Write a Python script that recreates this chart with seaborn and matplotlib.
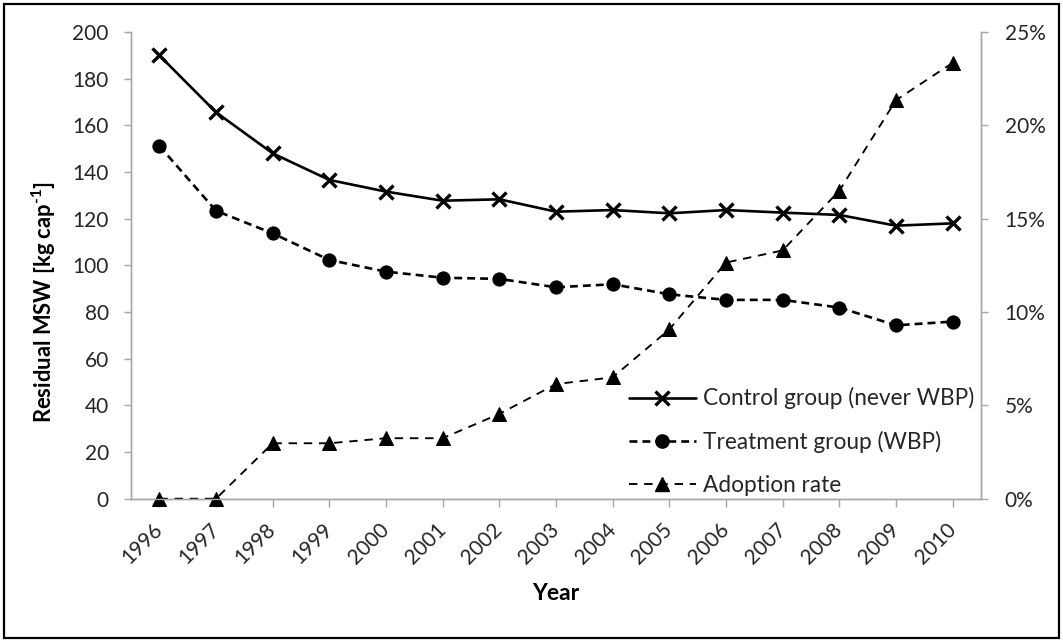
import matplotlib
matplotlib.use('Agg')
import matplotlib.pyplot as plt
import seaborn as sns
import numpy as np
from matplotlib.ticker import FuncFormatter, FixedLocator
from matplotlib.patches import Rectangle
from matplotlib.lines import Line2D

years = ['1996', '1997', '1998', '1999', '2000', '2001', '2002', '2003',
         '2004', '2005', '2006', '2007', '2008', '2009', '2010']
control = [190, 165.6, 148, 136.6, 131.6, 127.7, 128.3, 123.0,
           123.7, 122.3, 123.7, 122.6, 121.6, 117.0, 118.0]
treatment = [151.2, 123.4, 113.7, 102.3, 97.3, 94.7, 94.2, 90.6,
             91.9, 87.6, 85.2, 85.2, 81.9, 74.3, 75.9]
adoption = [0.0, 0.0, 2.97, 2.97, 3.24, 3.24, 4.54, 6.14,
            6.5, 9.07, 12.65, 13.3, 16.5, 21.35, 23.35]  # percent

left_ticks = [0, 20, 40, 60, 80, 100, 120, 140, 160, 180, 200]
right_ticks = [0, 5, 10, 15, 20, 25]

sns.set_theme(style='white')
plt.rcParams['font.family'] = ['Lato', 'DejaVu Sans']
plt.rcParams['mathtext.fontset'] = 'custom'
plt.rcParams['mathtext.bf'] = 'Lato:bold'
plt.rcParams['mathtext.rm'] = 'Lato:bold'

W, H = 1063, 642
fig = plt.figure(figsize=(W / 100, H / 100), dpi=100)
ax_l, ax_r, ax_t, ax_b = 131, 981, 32, 498.7
ax = fig.add_axes([ax_l / W, 1 - ax_b / H, (ax_r - ax_l) / W, (ax_b - ax_t) / H])
ax2 = ax.twinx()

idx = np.arange(len(years))
axis_col = '#A6A6A6'
txt_col = '#262626'

ctrl_kw = dict(color='black', linewidth=1.9, marker='x', markersize=10,
               markeredgewidth=2.4, markeredgecolor='black')
trt_kw = dict(color='black', linewidth=1.9, linestyle=(0, (3.0, 1.9)),
              marker='o', markersize=9.5, markeredgecolor='black',
              markerfacecolor='black')
adp_kw = dict(color='black', linewidth=1.35, linestyle=(0, (4.5, 3.6)),
              marker='^', markersize=10, markeredgecolor='black',
              markerfacecolor='black')

sns.lineplot(x=idx, y=control, ax=ax, clip_on=False, **ctrl_kw)
sns.lineplot(x=idx, y=treatment, ax=ax, clip_on=False, **trt_kw)
sns.lineplot(x=idx, y=adoption, ax=ax2, clip_on=False, **adp_kw)

for a in (ax, ax2):
    a.set_xlim(-0.5, len(years) - 0.5)
    a.spines['top'].set_visible(False)
    for s in ('left', 'right', 'bottom'):
        a.spines[s].set_color(axis_col)
        a.spines[s].set_linewidth(1.0)
    a.grid(False)
    a.set_xlabel('')
    a.set_ylabel('')

ax.set_ylim(0, 200)
ax.yaxis.set_major_locator(FixedLocator(left_ticks))
ax2.set_ylim(0, 25)
ax2.yaxis.set_major_locator(FixedLocator(right_ticks))
ax2.yaxis.set_major_formatter(FuncFormatter(lambda v, p: f'{v:.0f}%'))

ax.set_xticks(idx)
ax.set_xticklabels(years, rotation=45, ha='right', va='center', rotation_mode='anchor')

ax.tick_params(axis='y', which='major', direction='out', length=5, width=1,
               color=axis_col, labelcolor=txt_col, labelsize=15, pad=11, left=True)
ax2.tick_params(axis='y', which='major', direction='out', length=5, width=1,
                color=axis_col, labelcolor=txt_col, labelsize=15, pad=12, right=True)
ax.tick_params(axis='x', which='major', direction='out', length=6, width=1,
               color=axis_col, labelcolor=txt_col, labelsize=15, pad=14, bottom=True)
ax2.tick_params(axis='x', bottom=False, labelbottom=False)

ax.set_ylabel(r'Residual MSW [kg cap$^{\text{-}1}$]', fontsize=15.8, fontweight='bold',
              color='black')
ax.yaxis.set_label_coords(-0.086, 0.421)
ax.set_xlabel('Year', fontsize=16.5, fontweight='bold', color='black', labelpad=11)

handles = [
    Line2D([], [], **ctrl_kw),
    Line2D([], [], **trt_kw),
    Line2D([], [], **adp_kw),
]
labels = ['Control group (never WBP)', 'Treatment group (WBP)', 'Adoption rate']
fig.legend(handles, labels, loc='center left', bbox_to_anchor=(629 / W, 1 - 441.5 / H),
           bbox_transform=fig.transFigure, frameon=False, fontsize=16.3,
           handlelength=2.95, handletextpad=0.3, labelspacing=0.95,
           borderpad=0, borderaxespad=0, labelcolor=txt_col)

fig.patches.append(Rectangle((4 / W, 4 / H), (W - 8) / W, (H - 8) / H,
                             transform=fig.transFigure, fill=False,
                             edgecolor='black', linewidth=1.6))

fig.savefig('out.png', dpi=100)
